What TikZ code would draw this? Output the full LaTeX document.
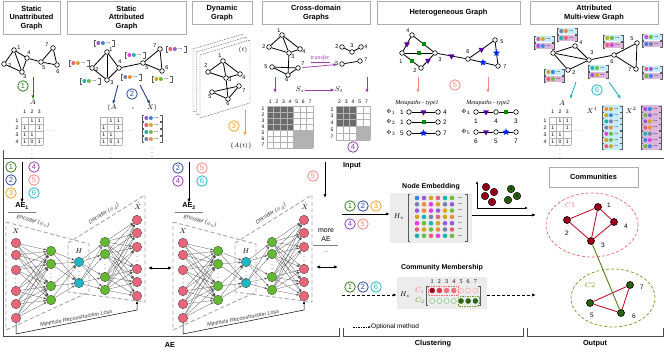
\documentclass[tikz,border=0pt]{standalone}
\usepackage{fontspec}
\setmainfont{Liberation Serif}
\setsansfont{Liberation Sans}
\usetikzlibrary{arrows.meta,positioning,shapes.geometric,calc}

\definecolor{cpurple}{HTML}{9A5BDB}
\definecolor{cblue}{HTML}{3C82E8}
\definecolor{cred}{HTML}{E85F78}
\definecolor{corange}{HTML}{EF8C3A}
\definecolor{cgold}{HTML}{D6A51F}
\definecolor{cteal}{HTML}{1DB3AE}
\definecolor{cgreen}{HTML}{6DBE3F}
\definecolor{cslate}{HTML}{7683A8}
\definecolor{cmag}{HTML}{E23DE0}
\definecolor{nodered}{HTML}{EA6579}
\definecolor{nodegreen}{HTML}{62BA30}
\definecolor{nodecyan}{HTML}{1EB8C4}
\definecolor{darkred}{HTML}{A3001E}
\definecolor{darkgreen}{HTML}{2A6410}
\definecolor{numgreen}{HTML}{2E7D18}
\definecolor{numblue}{HTML}{274A98}
\definecolor{numorange}{HTML}{F5A01E}
\definecolor{numpurple}{HTML}{983DB6}
\definecolor{numsalmon}{HTML}{F2877E}
\definecolor{numcyan}{HTML}{21B4C8}
\definecolor{xfer}{HTML}{A03AA6}
\definecolor{navy}{HTML}{243F8A}
\definecolor{c1red}{HTML}{F06A6A}
\definecolor{c2green}{HTML}{6A9E1E}
\definecolor{edgered}{HTML}{C4142E}
\definecolor{hctwo}{HTML}{E83048}
\definecolor{hcthree}{HTML}{F0707A}

% 4x3 adjacency matrix, #1 name, #2 left, #3 top
\newcommand{\adjmat}[3]{%
  \begin{scope}[shift={(#2,#3)}]
    \foreach \ci in {0,1,2,3}
      \draw[mgrid] (\ci*7.33,0) -- (\ci*7.33,28);
    \foreach \ri in {0,1,2,3,4}
      \draw[mgrid] (0,\ri*7) -- (22,\ri*7);
    \foreach \ri/\ci/\val in {1/2/1,1/3/1,2/1/1,2/3/1,3/1/1,3/2/1,4/1/1,4/2/0,4/3/1}
      \node[mtxt] (#1\ri\ci) at (\ci*7.33-3.67,\ri*7-3.5) {\val};
    \node[mtxt] (#1h) at (28.5,14) {$\cdots$};
    \node[mtxt] (#1v) at (11,34) {$\vdots$};
  \end{scope}}

% attribute vector, #1 name, #2 position, #3 #4 colours, #5 background
\newcommand{\attvec}[5]{%
  \node[vecbr,fill=#5] (#1) at (#2) {};
  \draw[vecline] ([xshift=1.5pt]#1.north west) -| (#1.south west) -- ++(1.5,0);
  \draw[vecline] ([xshift=-1.5pt]#1.north east) -| (#1.south east) -- ++(-1.5,0);
  \fill[#3] ([xshift=4pt]#1.west) circle (2pt);
  \fill[#4] ([xshift=8.6pt]#1.west) circle (2pt);
  \node[vdots] (#1d) at ([xshift=14pt]#1.west) {...};
}

% autoencoder, #1 prefix, #2 offset
\newcommand{\aenet}[2]{%
  \begin{scope}[shift={(#2,0)}]
    \draw[aebox] (6,222) -- (89,244) -- (89,292) -- (6,330) -- cycle;
    \draw[aebox] (68,243) -- (145,195) -- (145,302) -- (68,292) -- cycle;
    \node[aetxt,rotate=-15] (#1enc) at (33,221) {Encoder ($\phi_e$)};
    \node[aetxt,rotate=32] (#1dec) at (104,214) {Decoder ($\phi_d$)};
    \foreach \i/\y in {1/243,2/255,3/270,4/291,5/304,6/318}
      \node[neuron,fill=nodered] (#1x\i) at (16,\y) {};
    \foreach \i/\y in {1/251,2/264,3/286,4/300}
      \node[neuron,fill=nodegreen] (#1g\i) at (51,\y) {};
    \foreach \i/\y in {1/262,2/283}
      \node[neuron,fill=nodecyan] (#1h\i) at (79,\y) {};
    \foreach \i/\y in {1/242,2/254,3/277,4/290}
      \node[neuron,fill=nodegreen] (#1k\i) at (105,\y) {};
    \foreach \i/\y in {1/220,2/233,3/247,4/269,5/282,6/296}
      \node[neuron,fill=nodered] (#1r\i) at (137,\y) {};
    \foreach \i in {1,...,6}
      \foreach \j in {1,...,4}
        \draw[nnedge] (#1x\i) -- (#1g\j);
    \foreach \i in {1,...,4}
      \foreach \j in {1,2}
        \draw[nnedge] (#1g\i) -- (#1h\j);
    \foreach \i in {1,2}
      \foreach \j in {1,...,4}
        \draw[nnedge] (#1h\i) -- (#1k\j);
    \foreach \i in {1,...,4}
      \foreach \j in {1,...,6}
        \draw[nnedge] (#1k\i) -- (#1r\j);
    \node[vd] (#1xd) at (16,280) {$\vdots$};
    \node[vd] (#1gd) at (51,275) {$\vdots$};
    \node[vd] (#1hd) at (79,273) {$\vdots$};
    \node[vd] (#1kd) at (105,266) {$\vdots$};
    \node[vd] (#1rd) at (137,258) {$\vdots$};
    \node[mlbl] (#1xl) at (16,231) {$X$};
    \node[mlbl] (#1hl) at (79,251) {$H$};
    \node[mlbl] (#1rl) at (138,206) {$\hat{X}$};
    \draw[losspil] (#1x6) -- ++(0,16) -- ++(121,-24) -- (#1r6);
    \node[aetxt,rotate=11] (#1loss) at (76,318) {Minimize Reconstruction Loss};
  \end{scope}}

\begin{document}
\begin{tikzpicture}[x=1pt,y=-1pt,
    every node/.style={font=\sffamily},
    gnode/.style={circle,draw,fill=white,inner sep=0pt,minimum size=4.6pt,line width=0.6pt},
    gedge/.style={line width=0.8pt},
    nlab/.style={font=\sffamily\fontsize{5.5}{5.5}\selectfont,inner sep=0pt},
    titlebox/.style={draw=gray!65,line width=0.6pt,font=\sffamily\bfseries\fontsize{7.4}{8.6}\selectfont,align=center,inner sep=0pt},
    numc/.style={circle,draw=#1,text=#1,line width=0.8pt,inner sep=0pt,minimum size=10.5pt,font=\sffamily\fontsize{7.5}{7.5}\selectfont},
    mtxt/.style={font=\sffamily\fontsize{5}{5}\selectfont,inner sep=0pt},
    mlbl/.style={font=\fontsize{7.5}{7.5}\selectfont,inner sep=0pt},
    mgrid/.style={gray!60,line width=0.35pt},
    pil/.style={-{Latex[length=4pt,width=3.2pt]},line width=0.9pt},
    dpil/.style={-{Latex[length=4pt,width=3.2pt]},line width=0.9pt,dash pattern=on 3pt off 2pt},
    dbl/.style={{Latex[length=4pt,width=3.4pt]}-{Latex[length=4pt,width=3.4pt]},line width=0.9pt},
    vecbr/.style={rectangle,inner sep=0pt,minimum width=19pt,minimum height=6pt},
    vecline/.style={gray!70!black,line width=0.4pt},
    vdots/.style={font=\sffamily\bfseries\fontsize{4.5}{4.5}\selectfont,inner sep=0pt},
    vd/.style={font=\fontsize{6}{6}\selectfont,inner sep=0pt},
    plane/.style={dash pattern=on 1.5pt off 1pt,gray!70!black,line width=0.4pt,fill=white},
    mtri/.style={regular polygon,regular polygon sides=3,shape border rotate=180,fill=violet!70!blue,inner sep=0pt,minimum size=7pt},
    msq/.style={rectangle,fill=green!55!black,inner sep=0pt,minimum size=4pt},
    mstar/.style={star,star points=5,star point ratio=2.3,fill=blue!85!cyan,inner sep=0pt,minimum size=7.5pt},
    neuron/.style={circle,draw=black!70,line width=0.4pt,inner sep=0pt,minimum size=9.5pt},
    nnedge/.style={-{Latex[length=2.5pt,width=2pt]},gray!60!black,line width=0.25pt},
    losspil/.style={-{Latex[length=3pt,width=2.5pt]},line width=0.5pt},
    aebox/.style={dash pattern=on 4pt off 2.5pt,gray!70,line width=0.9pt},
    aetxt/.style={font=\sffamily\itshape\fontsize{5.5}{5.5}\selectfont,text=gray!40!black,inner sep=0pt},
    sect/.style={gray!60!black,line width=0.6pt},
    secttitle/.style={font=\sffamily\bfseries\fontsize{7.3}{7.3}\selectfont,inner sep=0pt},
    graybox/.style={fill=gray!15,inner sep=0pt},
    snode/.style={circle,draw=black,line width=0.5pt,inner sep=0pt,minimum size=7.5pt,font=\sffamily\fontsize{4}{4}\selectfont},
    onode/.style={circle,draw=black,line width=0.6pt,inner sep=0pt,minimum size=7pt},
    oedge/.style={line width=0.9pt,edgered},
    metatxt/.style={font=\rmfamily\itshape\fontsize{6}{6}\selectfont,inner sep=0pt}
  ]
  \useasboundingbox (0,0) rectangle (664,359);

  % ---------- titles ----------
  \node[titlebox,minimum width=57pt,minimum height=33pt] (t1) at (31.5,18) {Static\\Unattributed\\Graph};
  \node[titlebox,minimum width=119pt,minimum height=33pt] (t2) at (126.5,18) {Static\\Attributed\\Graph};
  \node[titlebox,minimum width=60pt,minimum height=23pt] (t3) at (222,13) {Dynamic\\Graph};
  \node[titlebox,minimum width=108pt,minimum height=23pt] (t4) at (316,13) {Cross-domain\\Graphs};
  \node[titlebox,minimum width=143pt,minimum height=23pt] (t5) at (448.5,13) {Heterogeneous Graph};
  \node[titlebox,minimum width=128pt,minimum height=23pt] (t6) at (594,13) {Attributed\\Multi-view Graph};

  % ---------- static unattributed graph ----------
  \foreach \n/\x/\y in {1/14/50,2/4/64,3/22/72,4/27/58,5/41/62,6/57/65,7/53/48}
    \node[gnode] (a\n) at (\x,\y) {};
  \foreach \p/\q in {1/2,1/3,1/4,2/3,3/4,4/5,5/6,5/7,6/7}
    \draw[gedge] (a\p) -- (a\q);
  \foreach \n/\x/\y in {1/19/48,2/10/66,3/25/77,4/29/53,5/44/68,6/58/72,7/47/45}
    \node[nlab] (a\n l) at (\x,\y) {\n};
  \node[numc=numgreen] (n1a) at (23,86) {1};
  \coordinate (a-s) at (33,77);
  \node[mlbl] (pA) at (33,102) {$A$};
  \draw[pil,numgreen] (a-s) -- (pA);
  \foreach \ci in {1,2,3}
    \node[mtxt] (pah\ci) at (21+\ci*7.33-3.67,112) {\ci};
  \foreach \ri in {1,2,3,4}
    \node[mtxt] (par\ri) at (17,117+\ri*7-3.5) {\ri};
  \adjmat{pa}{21}{117}

  % ---------- static attributed graph ----------
  \foreach \n/\x/\y in {1/107/52,2/92/68,3/107/80,4/119/68,5/143/63,6/162/71,7/160/49}
    \node[gnode] (b\n) at (\x,\y) {};
  \foreach \p/\q in {1/2,1/3,1/4,2/3,3/4,4/5,5/6,5/7,6/7}
    \draw[gedge] (b\p) -- (b\q);
  \foreach \n/\x/\y in {1/111/50,2/97/70,3/112/83,4/120/62,5/147/68,6/167/68,7/155/46}
    \node[nlab] (b\n l) at (\x,\y) {\n};
  \attvec{bv1}{104,43}{cpurple}{cblue}{none}
  \attvec{bv2}{79,63}{cred}{cgold}{none}
  \attvec{bv3}{90,81}{cteal}{cgreen}{none}
  \attvec{bv4}{131,77}{cslate}{corange}{none}
  \attvec{bv5}{135,55}{cmag}{cteal}{none}
  \attvec{bv6}{162,79}{cgold}{cgreen}{none}
  \attvec{bv7}{176,49}{cred}{cpurple}{none}
  \node[numc=numblue] (n2a) at (132,94) {2};
  \coordinate (b-s1) at (118,85);
  \coordinate (b-s2) at (140,85);
  \node[mlbl] (pbA) at (112,108) {$(A$};
  \node[mlbl] (pbc) at (133,109) {,};
  \node[mlbl] (pbX) at (152,108) {$X)$};
  \draw[pil,navy] (b-s1) -- (pbA);
  \draw[pil,navy] (b-s2) -- (pbX);
  \adjmat{pb}{100}{117}
  \attvec{bx1}{152,118}{cpurple}{cblue}{none}
  \attvec{bx2}{152,125}{cred}{cgold}{none}
  \attvec{bx3}{152,132}{cteal}{cgreen}{none}
  \attvec{bx4}{152,139}{cslate}{corange}{none}
  \node[vd] (bxv) at (152,150) {$\vdots$};

  % ---------- dynamic graph ----------
  \foreach \k in {2,1,0}
    \draw[plane,shift={(-3.5*\k,-3*\k)}] (200,55) -- ++(50,-15) -- ++(0,63) -- ++(-50,15) -- cycle;
  \node[font=\fontsize{6}{6}\selectfont,inner sep=0pt] (dt) at (243,50) {$(t)$};
  \foreach \n/\x/\y in {1/223/61,2/208/72,3/226/78,4/240/74,5/212/92,6/228/99,7/239/86}
    \node[gnode] (d\n) at (\x,\y) {};
  \foreach \p/\q in {1/2,1/3,1/4,2/3,3/4,3/6,5/6,5/7,6/7}
    \draw[gedge] (d\p) -- (d\q);
  \foreach \n/\x/\y in {1/220/56,2/206/66,3/230/80,4/244/78,5/210/97,6/228/104,7/244/91}
    \node[nlab] (d\n l) at (\x,\y) {\n};
  \coordinate (d-s) at (245,110);
  \coordinate (d-e) at (245,136);
  \draw[pil,numorange] (d-s) -- (d-e);
  \node[numc=numorange] (n3a) at (234,126) {3};
  \node[mlbl,font=\fontsize{6.5}{6.5}\selectfont] (dA) at (241,146) {$\{A(t)\}$};

  % ---------- cross-domain graphs ----------
  \foreach \n/\x/\y in {1/282/35,2/269/47,3/289/53,4/300/49,5/272/67,6/288/75,7/298/68}
    \node[gnode] (s\n) at (\x,\y) {};
  \foreach \p/\q in {1/2,1/3,1/4,2/3,3/4,3/6,5/6,5/7,6/7}
    \draw[gedge] (s\p) -- (s\q);
  \foreach \n/\x/\y in {1/279/31,2/264/47,3/293/57,4/304/52,5/266/67,6/287/80,7/303/64}
    \node[nlab] (s\n l) at (\x,\y) {\n};
  \foreach \n/\x/\y in {2/342/47,3/352/52,4/361/47,5/342/64,7/360/61}
    \node[gnode] (u\n) at (\x,\y) {};
  \foreach \p/\q in {2/3,3/4,5/7}
    \draw[gedge] (u\p) -- (u\q);
  \foreach \n/\x/\y in {2/337/47,3/352/46,4/366/47,5/337/64,7/366/60}
    \node[nlab] (u\n l) at (\x,\y) {\n};
  \draw[pil,xfer,line width=0.7pt,shorten <=2pt,shorten >=2pt] (s7) -- node[above=0pt,font=\rmfamily\itshape\fontsize{6}{6}\selectfont,text=xfer] (xferl) {\underline{transfer}} (u5);
  \coordinate (s-a1) at (275,77);
  \coordinate (s-a2) at (275,93);
  \coordinate (u-a1) at (367,77);
  \coordinate (u-a2) at (367,93);
  \draw[pil,xfer] (s-a1) -- (s-a2);
  \draw[pil,xfer] (u-a1) -- (u-a2);
  \node[mlbl] (Ss) at (300,90) {$S_s$};
  \node[mlbl] (St) at (339,90) {$S_t$};
  \draw[pil,xfer,line width=0.7pt] (Ss) -- (St);
  % source matrix
  \fill[gray!85!black] (267,106) rectangle ++(26.4,24);
  \fill[gray!60] (293.4,130) rectangle ++(19.8,18);
  \foreach \i in {0,...,7}
    \draw[mgrid] (267+\i*6.6,106) -- ++(0,42);
  \foreach \i in {0,...,7}
    \draw[mgrid] (267,106+\i*6) -- ++(46.2,0);
  \foreach \i in {1,...,7} {
    \node[mtxt] (ssh\i) at (267+\i*6.6-3.3,102) {\i};
    \node[mtxt] (ssr\i) at (263,106+\i*6-3) {\i};
  }
  % target matrix
  \fill[gray!85!black] (336,106) rectangle ++(20.4,20.4);
  \fill[gray!60] (356.4,126.4) rectangle ++(13.6,13.6);
  \foreach \i in {0,...,5}
    \draw[mgrid] (336+\i*6.8,106) -- ++(0,34);
  \foreach \i in {0,...,5}
    \draw[mgrid] (336,106+\i*6.8) -- ++(34,0);
  \foreach \i/\lab in {1/2,2/3,3/4,4/5,5/7} {
    \node[mtxt] (uth\i) at (336+\i*6.8-3.4,102) {\lab};
    \node[mtxt] (utr\i) at (332,106+\i*6.8-3.4) {\lab};
  }
  \node[numc=numpurple] (n4a) at (353,147) {4};

  % ---------- heterogeneous graph ----------
  \foreach \n/\x/\y in {4/412/35,1/402/53,2/421/68,3/435/53,6/468/59,5/495/40,7/498/66}
    \node[gnode] (h\n) at (\x,\y) {};
  \draw[gedge] (h4) -- node[mtri] (e41) {} (h1);
  \draw[gedge] (h4) -- node[msq] (e43) {} (h3);
  \draw[gedge] (h1) -- node[msq] (e13) {} (h3);
  \draw[gedge] (h1) -- node[msq] (e12) {} (h2);
  \draw[gedge] (h2) -- node[mtri] (e23) {} (h3);
  \draw[gedge] (h3) -- node[mtri] (e36) {} (h6);
  \draw[gedge] (h6) -- node[mtri] (e65) {} (h5);
  \draw[gedge] (h5) -- node[mstar] (e57) {} (h7);
  \draw[gedge] (h6) -- node[mstar] (e67) {} (h7);
  \foreach \n/\x/\y in {4/408/31,1/401/62,2/415/71,3/440/60,6/468/52,5/502/42,7/505/67}
    \node[nlab] (h\n l) at (\x,\y) {\n};
  \coordinate (h-a1) at (418,77);
  \coordinate (h-a2) at (418,93);
  \coordinate (h-b1) at (488,77);
  \coordinate (h-b2) at (488,93);
  \draw[pil,numsalmon] (h-a1) -- (h-a2);
  \draw[pil,numsalmon] (h-b1) -- (h-b2);
  \node[numc=numsalmon] (n5a) at (455,85) {5};
  \node[metatxt] (mp1) at (417,103) {Metapaths - type1};
  \node[metatxt] (mp2) at (488,103) {Metapaths - type2};
  % type 1 metapaths
  \foreach \row/\y/\phi/\fa/\fb/\mk in {1/112/1/1/4/mtri,2/122/2/1/2/msq,3/133/3/5/7/mstar} {
    \node[mlbl,font=\fontsize{6.5}{6.5}\selectfont] (phi\row) at (391,\y) {$\Phi_{\phi}$};
    \node[nlab,font=\sffamily\fontsize{6.5}{6.5}\selectfont] (pf\row) at (402,\y) {\fa};
    \node[gnode] (pa\row) at (409,\y) {};
    \node[gnode] (pb\row) at (438,\y) {};
    \draw[gedge] (pa\row) -- node[\mk] (pm\row) {} (pb\row);
    \node[nlab,font=\sffamily\fontsize{6.5}{6.5}\selectfont] (pl\row) at (445,\y) {\fb};
  }
  % type 2 metapaths
  \foreach \row/\y/\phi/\la/\lb/\lc/\mk in {4/112/4/1/4/3/msq,5/132/5/6/5/7/mstar} {
    \node[mlbl,font=\fontsize{6.5}{6.5}\selectfont] (phi\row) at (466,\y) {$\Phi_{\phi}$};
    \node[gnode] (qa\row) at (476,\y) {};
    \node[gnode] (qb\row) at (496,\y) {};
    \node[gnode] (qc\row) at (516,\y) {};
    \draw[gedge] (qa\row) -- node[mtri] (qm\row) {} (qb\row);
    \draw[gedge] (qb\row) -- node[\mk] (qn\row) {} (qc\row);
    \node[nlab,font=\sffamily\fontsize{6.5}{6.5}\selectfont] (qla\row) at (476,\y+9) {\la};
    \node[nlab,font=\sffamily\fontsize{6.5}{6.5}\selectfont] (qlb\row) at (496,\y+9) {\lb};
    \node[nlab,font=\sffamily\fontsize{6.5}{6.5}\selectfont] (qlc\row) at (516,\y+9) {\lc};
  }

  % ---------- attributed multi-view graph ----------
  \foreach \n/\x/\y in {1/553/53,4/575/46,3/589/60,2/568/70,6/614/55,5/637/43,7/636/69}
    \node[gnode] (m\n) at (\x,\y) {};
  \foreach \p/\q in {1/4,1/3,1/2,4/3,2/3,3/6,6/5,6/7,5/7}
    \draw[gedge] (m\p) -- (m\q);
  \foreach \n/\x/\y in {1/550/48,4/581/43,3/592/53,2/574/73,6/612/62,5/632/39,7/630/70}
    \node[nlab] (m\n l) at (\x,\y) {\n};
  \foreach \nm/\x/\y/\ca/\cb/\cc/\cd in {1/544/39/cred/cgold/cpurple/cblue,
      4/567/31/cslate/corange/cteal/cred,
      2/554/72/cgold/cblue/cred/cgreen,
      3/598/68/cteal/cgreen/cpurple/cgold,
      5/613/38/cgold/cgreen/cred/cmag,
      8/652/37/cmag/cgreen/cblue/cslate,
      7/652/69/cred/cpurple/cgreen/cblue} {
    \attvec{mv\nm a}{\x,\y}{\ca}{\cb}{cyan!22}
    \attvec{mv\nm b}{\x,\y+7}{\cc}{\cd}{violet!28}
  }
  \coordinate (m-a1) at (576,82);
  \coordinate (m-a2) at (570,99);
  \coordinate (m-b1) at (609,82);
  \coordinate (m-b2) at (621,99);
  \draw[pil,numcyan] (m-a1) -- (m-a2);
  \draw[pil,numcyan] (m-b1) -- (m-b2);
  \node[numc=numcyan] (n6a) at (597,90) {6};
  \node[mlbl] (mA) at (562,103) {$A$};
  \foreach \ci in {1,2,3}
    \node[mtxt] (pch\ci) at (549+\ci*7.33-3.67,112) {\ci};
  \foreach \ri in {1,2,3,4}
    \node[mtxt] (pcr\ri) at (545,117+\ri*7-3.5) {\ri};
  \adjmat{pc}{549}{117}
  \node[mlbl] (mX1) at (592,110) {$X^1$};
  \node[mlbl] (mX2) at (631,110) {$X^2$};
  \fill[cyan!22] (601.5,105) rectangle (622.5,150);
  \fill[violet!28] (640.5,105) rectangle (661.5,150);
  \foreach \i/\ca/\cb/\cc/\cd in {1/corange/cgold/cpurple/cblue,2/cgold/cblue/cgreen/cpurple,
      3/cteal/cslate/cpurple/cgold,4/cslate/corange/cred/corange,5/cmag/cgreen/cteal/cslate,
      6/cgold/cgreen/cblue/cmag,7/cred/cgold/cgreen/cblue} {
    \attvec{xa\i}{612,102.8+6.2*\i}{\ca}{\cb}{none}
    \attvec{xb\i}{651,102.8+6.2*\i}{\cc}{\cd}{none}
  }

  % ---------- sections ----------
  \draw[sect] (3,150) -- (3,336) -- (339,336) -- (339,328);
  \draw[sect] (3,158) -- (664,158);
  \draw[sect] (343,328) -- (343,336) -- (523,336) -- (523,328);
  \draw[sect] (527,328) -- (527,336) -- (663,336) -- (663,328);
  \node[secttitle] (aesec) at (170,345) {AE};
  \node[secttitle] (clsec) at (433,344) {Clustering};
  \node[secttitle] (outsec) at (595,344) {Output};

  % ---------- autoencoders ----------
  \aenet{ea}{0}
  \aenet{eb}{167}
  \node[numc=numgreen] (n1b) at (11,167) {1};
  \node[numc=numblue] (n2b) at (11,180) {2};
  \node[numc=numorange] (n3b) at (11,193) {3};
  \node[numc=numpurple] (n4b) at (34,167) {4};
  \node[numc=numsalmon] (n5b) at (34,180) {5};
  \node[numc=numcyan] (n6b) at (34,193) {6};
  \node[secttitle] (ae1) at (22,206) {AE\textsubscript{1}};
  \draw[gray,line width=0.6pt] (8,212) -- (36,212);
  \coordinate (ae1-s) at (22,162);
  \draw[pil] (ae1-s) -- (ae1);
  \node[numc=numblue] (n2c) at (178,168) {2};
  \node[numc=numpurple] (n4c) at (178,181) {4};
  \node[numc=numsalmon] (n5c) at (202,168) {5};
  \node[numc=numcyan] (n6c) at (202,181) {6};
  \node[secttitle] (ae2) at (189,206) {AE\textsubscript{2}};
  \draw[gray,line width=0.6pt] (175,212) -- (203,212);
  \coordinate (ae2-s) at (189,162);
  \draw[pil] (ae2-s) -- (ae2);
  \coordinate (lk1) at (148,268);
  \coordinate (lk2) at (172,268);
  \draw[dbl] (lk1) -- (lk2);
  \coordinate (lk3) at (316,267);
  \coordinate (lk4) at (338,267);
  \draw[dbl] (lk3) -- (lk4);
  \node[numc=numsalmon] (n5d) at (313,176) {5};
  \coordinate (more-s) at (325,162);
  \coordinate (more-e) at (325,198);
  \draw[pil] (more-s) -- (more-e);
  \node[font=\sffamily\fontsize{7}{8.5}\selectfont,align=center,inner sep=0pt] (more) at (326,235) {more\\AE};
  \draw[gray,line width=0.6pt] (313,245) -- (338,245);
  \node[mtxt] (moredots) at (326,252) {...};

  % ---------- clustering ----------
  \node[secttitle] (input) at (352,166) {Input};
  \node[numc=numgreen] (n1e) at (350,206) {1};
  \node[numc=numblue] (n2e) at (363,206) {2};
  \node[numc=numorange] (n3e) at (376,206) {3};
  \node[numc=numpurple] (n4e) at (350,224) {4};
  \node[numc=numsalmon] (n5e) at (363,224) {5};
  \node[graybox,minimum width=82pt,minimum height=50pt] (hvbox) at (431,218) {};
  \node[secttitle,font=\sffamily\bfseries\fontsize{7}{7}\selectfont] (nemb) at (431,187) {Node Embedding};
  \coordinate (hv-in) at (342,214);
  \draw[pil] (hv-in) -- (hvbox.west |- hv-in);
  \node[mlbl] (hvl) at (399,217) {$H_v$};
  \draw[vecline] (410,194) -- (408,194) -- (408,241) -- (410,241);
  \draw[vecline] (465,194) -- (467,194) -- (467,241) -- (465,241);
  \foreach \ri/\cl in {1/{cblue,cpurple,cgold,cred,cteal,cgreen},
      2/{cslate,corange,cmag,cgold,cslate,cpurple},
      3/{cpurple,corange,cmag,cpurple,cgold,cgreen},
      4/{cgold,cteal,cslate,cred,cgold,corange},
      5/{cmag,cgreen,cteal,cgold,cpurple,cpurple},
      6/{cred,cgold,cgreen,corange,cslate,cred},
      7/{cteal,cgreen,cred,cmag,cteal,cgreen}} {
    \foreach \cc [count=\j] in \cl
      \fill[\cc] (410+7*\j,191.7+6.3*\ri) circle (2.3pt);
    \node[vdots] (hvd\ri) at (460,191.7+6.3*\ri) {...};
  }
  % scatter of embeddings
  \coordinate (sc-o) at (477,208);
  \coordinate (sc-y) at (477,181);
  \coordinate (sc-x) at (528,208);
  \draw[-{Latex[length=3pt,width=2.5pt]},line width=0.6pt] (sc-o) -- (sc-y);
  \draw[-{Latex[length=3pt,width=2.5pt]},line width=0.6pt] (sc-o) -- (sc-x);
  \foreach \n/\x/\y in {3/486/187,1/494/192,2/485/196,4/492/202}
    \node[snode,fill=darkred] (sr\n) at (\x,\y) {\n};
  \foreach \n/\x/\y in {6/511/189,7/508/200,5/517/196}
    \node[snode,fill=darkgreen] (sg\n) at (\x,\y) {\n};
  \coordinate (hv-out) at (536,215);
  \draw[pil] (hvbox.east |- hv-out) -- (hv-out);

  \node[secttitle,font=\sffamily\bfseries\fontsize{7}{7}\selectfont] (cmem) at (442,268) {Community Membership};
  \node[numc=numgreen] (n1f) at (350,287) {1};
  \node[numc=numblue] (n2f) at (363,287) {2};
  \node[numc=numcyan] (n6f) at (376,287) {6};
  \node[graybox,minimum width=90pt,minimum height=32pt] (hcbox) at (442,293) {};
  \coordinate (hc-in) at (342,295);
  \draw[dpil] (hc-in) -- (hcbox.west |- hc-in);
  \node[mlbl] (hcl) at (405,295) {$H_c$};
  \node[mlbl,text=c1red,font=\fontsize{7}{7}\selectfont] (hcc1) at (420,290.5) {$C_1$};
  \node[mlbl,text=c2green,font=\fontsize{7}{7}\selectfont] (hcc2) at (420,301) {$C_2$};
  \foreach \i in {1,...,7}
    \node[font=\rmfamily\fontsize{6}{6}\selectfont,inner sep=0pt] (hcn\i) at (425+7.2*\i,282) {\i};
  \draw[vecline] (428,286) -- (426,286) -- (426,305) -- (428,305);
  \draw[vecline] (478,286) -- (480,286) -- (480,305) -- (478,305);
  \foreach \i/\fc/\dc in {1/darkred/darkred,2/hctwo/hctwo,3/hcthree/hcthree,4/hcthree/hcthree,5/red!8/red!40,6/red!8/red!40,7/red!8/red!40}
    \filldraw[fill=\fc,draw=\dc,line width=0.4pt] (425+7.2*\i,290.5) circle (2.5pt);
  \foreach \i/\fc/\dc in {1/green!8/green!50!black!60,2/green!8/green!50!black!60,3/green!8/green!50!black!60,4/green!8/green!50!black!60,5/darkgreen/darkgreen,6/darkgreen/darkgreen,7/darkgreen/darkgreen}
    \filldraw[fill=\fc,draw=\dc,line width=0.4pt] (425+7.2*\i,301) circle (2.5pt);
  \draw[c1red,dash pattern=on 1.5pt off 1pt,line width=0.5pt] (428,286) rectangle (458,295.5);
  \draw[c2green,dash pattern=on 1.5pt off 1pt,line width=0.5pt] (458.5,296.5) rectangle (479,306);
  \coordinate (hc-out) at (536,295);
  \draw[dpil] (hcbox.east |- hc-out) -- (hc-out);
  \node[font=\sffamily\fontsize{6.5}{6.5}\selectfont,inner sep=0pt,anchor=west] (legend) at (371,327) {Optional method};
  \coordinate (leg-s) at (353,327);
  \draw[-{Latex[length=2.5pt,width=2.2pt]},line width=0.6pt,dash pattern=on 1.5pt off 1pt] (leg-s) -- (legend.west);

  % ---------- output ----------
  \node[titlebox,minimum width=89pt,minimum height=20pt] (comm) at (593.5,177) {Communities};
  \draw[c1red,dash pattern=on 3pt off 2pt,line width=0.7pt] (592,225) ellipse [x radius=46pt,y radius=32pt];
  \draw[c2green,dash pattern=on 3pt off 2pt,line width=0.7pt] (613,298) ellipse [x radius=42pt,y radius=29pt];
  \node[mlbl,text=c1red] (oc1) at (570,205) {$C1$};
  \node[mlbl,text=c2green] (oc2) at (590,285) {$C2$};
  \foreach \n/\x/\y in {1/598/207,2/567/220,4/614/222,3/591/241}
    \node[onode,fill=darkred] (o\n) at (\x,\y) {};
  \foreach \n/\x/\y in {7/630/285,5/590/303,6/621/313}
    \node[onode,fill=darkgreen] (o\n) at (\x,\y) {};
  \foreach \p/\q in {1/2,1/4,1/3,2/3,3/4,5/7,5/6,6/7}
    \draw[oedge] (o\p) -- (o\q);
  \draw[oedge,c2green!80!black] (o3) -- (o6);
  \foreach \n/\x/\y in {1/609/205,2/567/233,4/626/226,3/603/245,7/642/287,5/592/315,6/634/316}
    \node[font=\sffamily\fontsize{6.5}{6.5}\selectfont,inner sep=0pt] (o\n l) at (\x,\y) {\n};
\end{tikzpicture}
\end{document}
